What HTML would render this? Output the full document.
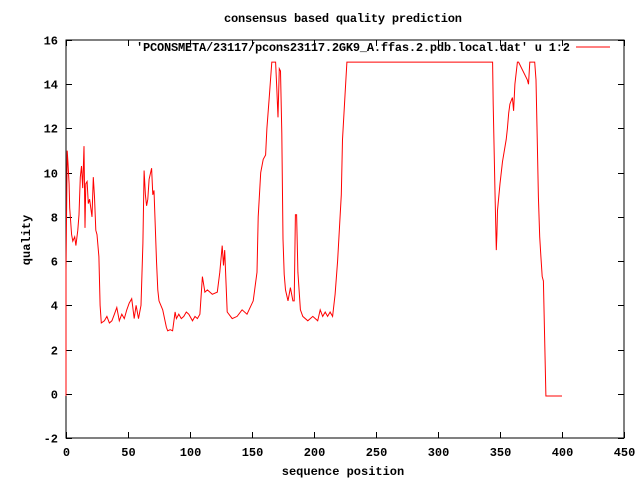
<!DOCTYPE html>
<html><head><meta charset="utf-8"><style>
html,body{margin:0;padding:0;background:#fff;}
svg{display:block;}
text{font-family:"Liberation Mono","DejaVu Sans Mono",monospace;font-weight:bold;font-size:12px;fill:#000;}
</style></head><body>
<svg id="chart" width="640" height="480" viewBox="0 0 640 480">
<rect x="0" y="0" width="640" height="480" fill="#fff"/>
<text x="343" y="22" text-anchor="middle" textLength="238">consensus based quality prediction</text>
<text x="343" y="475" text-anchor="middle">sequence position</text>
<text transform="translate(30,240) rotate(-90)" text-anchor="middle">quality</text>
<g id="axes"></g>
<g id="series"></g>
<text x="570" y="51" text-anchor="end" textLength="434">'PCONSMETA/23117/pcons23117.2GK9_A.ffas.2.pdb.local.dat' u 1:2</text>
<line x1="576" y1="47" x2="610" y2="47" stroke="#f00" stroke-width="1"/>
</svg>
<script>
const xTicks = [0,50,100,150,200,250,300,350,400,450];
const yTicks = [-2,0,2,4,6,8,10,12,14,16];
const posX = [
0,0,1,1.5,2.5,3,4.5,5.5,7,8,
9.5,10.5,11.5,12.5,13.5,14.5,15.3,16,17,18,
19,21,22,23,24,25,26.5,27.5,28.5,31,
33,35,37,39,41,43,45,47,49,51,
53,55,56.5,58.5,60.5,62,63,64,65,66,
67,69,70,71,73,74,75,78,81,82,
84,86,88,89,91,93,95,97,99,102,
104,106,108,110,112,114,118,122,124,126,
127,128,130,134,138,142,146,151,154,155,
157,159,161,162,164,166,167,169,170,171,
172,173,174,175,176,177,179,181,183,184,
185,186,187,189,191,195,199,203,205,207,
209,211,213,215,217,219,222,223,225,226.5,
344,344.5,346,347,347.5,348,350,352,355,356,
357,358,360,361,362,364,365,372,373,374,
375,378,379,380,381,382,383,384,385,386,
387,400];
const quality = [
-0.1,5.6,11,10.5,9.5,8.4,7.2,6.9,7.1,6.7,
7.4,8.1,9.8,10.3,9.3,11.2,7.5,9.5,9.6,8.6,
8.8,8,9.8,8.9,7.4,7.2,6.2,4,3.2,3.3,
3.5,3.2,3.3,3.6,3.9,3.3,3.6,3.4,3.8,4.1,
4.3,3.4,4.0,3.4,4.0,6.8,10.1,9,8.5,8.8,
9.7,10.2,9,9.2,6,4.7,4.2,3.8,3.0,2.85,
2.9,2.85,3.7,3.4,3.6,3.4,3.5,3.7,3.6,3.3,
3.5,3.4,3.6,5.3,4.6,4.7,4.5,4.6,5.5,6.7,
5.8,6.5,3.7,3.4,3.5,3.8,3.6,4.2,5.5,8,
10,10.6,10.8,12,13.5,15,15,15,13.8,12.5,
14.7,14.6,11.8,7,5.4,4.7,4.2,4.8,4.2,4.2,
8.1,8.1,5.5,3.8,3.5,3.3,3.5,3.3,3.8,3.5,
3.7,3.5,3.7,3.5,4.5,6,9,11.5,13.5,15,
15,13.1,9.1,6.5,7.2,8.3,9.5,10.5,11.5,12,
12.7,13.1,13.4,12.8,14,15,15,14.2,14,15,
15,15,14.2,11.6,8.9,7.1,6.2,5.3,5.1,2.6,
-0.1,-0.1];
const L=66,R=624,T=40,B=438,XMIN=0,XMAX=450,YMIN=-2,YMAX=16;
const sx=v=>L+(v-XMIN)/(XMAX-XMIN)*(R-L);
const sy=v=>B-(v-YMIN)/(YMAX-YMIN)*(B-T);
const NS="http://www.w3.org/2000/svg";
const axes=document.getElementById('axes');
function mk(tag,attrs,parent){const e=document.createElementNS(NS,tag);for(const k in attrs)e.setAttribute(k,attrs[k]);parent.appendChild(e);return e;}
const frame=mk('rect',{x:L,y:T,width:R-L,height:B-T,fill:'none',stroke:'#000','stroke-width':1},axes);


xTicks.forEach(v=>{
  const x=Math.round(sx(v))+0.5;
  const t1=mk('line',{x1:x,y1:B,x2:x,y2:B-6,stroke:'#000'},axes);
  
  
  const t2=mk('line',{x1:x,y1:T,x2:x,y2:T+6,stroke:'#000'},axes);
  
  
  const lb=mk('text',{x:x,y:B+18,'text-anchor':'middle'},axes);
  lb.textContent=v;
  
  
});
yTicks.forEach(v=>{
  const y=Math.round(sy(v))+0.5;
  const t1=mk('line',{x1:L,y1:y,x2:L+6,y2:y,stroke:'#000'},axes);
  
  
  const t2=mk('line',{x1:R,y1:y,x2:R-6,y2:y,stroke:'#000'},axes);
  
  
  const lb=mk('text',{x:58,y:y+4,'text-anchor':'end'},axes);
  lb.textContent=v;
  
  
});
const n=Math.min(posX.length,quality.length);
const pts=[];
for(let i=0;i<n;i++)pts.push(sx(posX[i]).toFixed(1)+','+sy(quality[i]).toFixed(1));
const line=mk('polyline',{points:pts.join(' '),fill:'none',stroke:'#f00','stroke-width':1},document.getElementById('series'));


</script>
</body></html>
